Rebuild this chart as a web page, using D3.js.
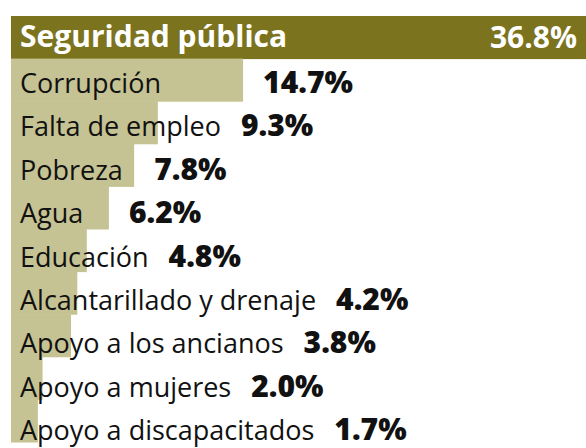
<!DOCTYPE html>
<html>
<head>
<meta charset="utf-8">
<script src="https://cdn.jsdelivr.net/npm/d3@7"></script>
<style>
    html, body { margin: 0; padding: 0; background: #fff; }
    svg { display: block; }
    text { font-family: 'Open Sans', 'Noto Sans', sans-serif; }
</style>
</head>
<body>
<div id="chart"></div>
<script>
(function() {
    'use strict';

    var categories = ['Seguridad pública', 'Corrupción', 'Falta de empleo', 'Pobreza', 'Agua',
        'Educación', 'Alcantarillado y drenaje', 'Apoyo a los ancianos', 'Apoyo a mujeres',
        'Apoyo a discapacitados'];
    var values = [36.8, 14.7, 9.3, 7.8, 6.2, 4.8, 4.2, 3.8, 2.0, 1.7];
    var valueLabels = ['36.8%', '14.7%', '9.3%', '7.8%', '6.2%', '4.8%', '4.2%', '3.8%', '2.0%', '1.7%'];

    var W = 586, H = 448;
    var left = 11, top = 16;

    var svg = d3.select('#chart').append('svg')
        .attr('width', W)
        .attr('height', H);

    var x = d3.scaleLinear().domain([0, 36.8]).range([0, 581]);
    // bars and text lines don't share quite the same pitch in the original
    var y = d3.scaleBand().domain(d3.range(categories.length)).range([top, 442]).padding(0);
    var yText = d3.scaleBand().domain(d3.range(categories.length)).range([top, 450]).padding(0);

    //bars
    svg.selectAll('rect.bar')
        .data(categories)
        .enter().append('rect')
        .attr('class', 'bar')
        .attr('x', left)
        .attr('y', function(d, i) { return y(i); })
        .attr('width', function(d, i) { return Math.min(x(values[i]), W - left); })
        .attr('height', y.bandwidth() + 0.5)
        .attr('fill', function(d, i) { return i === 0 ? '#7c731f' : '#c5c293'; });

    var rows = svg.selectAll('g.row')
        .data(categories)
        .enter().append('g')
        .attr('class', 'row')
        .attr('transform', function(d, i) { return 'translate(0,' + yText(i) + ')'; });

    //category names
    rows.append('text')
        .attr('class', 'name')
        .attr('x', 20)
        .attr('y', function(d, i) { return i === 0 ? 30.5 : 33.5; })
        .attr('font-size', function(d, i) { return i === 0 ? 30 : 27; })
        .attr('font-weight', function(d, i) { return i === 0 ? 700 : 400; })
        .attr('fill', function(d, i) { return i === 0 ? '#fff' : '#111'; })
        .text(function(d) { return d; });

    //values
    rows.append('text')
        .attr('class', 'val')
        .attr('y', function(d, i) { return i === 0 ? 32 : 33.5; })
        .attr('font-size', 30)
        .attr('font-weight', function(d, i) { return i === 0 ? 700 : 800; })
        .attr('text-anchor', function(d, i) { return i === 0 ? 'end' : 'start'; })
        .attr('fill', function(d, i) { return i === 0 ? '#fff' : '#111'; })
        .text(function(d, i) { return valueLabels[i]; })
        .attr('x', function(d, i) {
            if (i === 0) {
                return W - 9;
            }
            var nameEnd = 20 + this.parentNode.querySelector('text.name').getComputedTextLength();
            var barEnd = left + x(values[i]);
            return Math.max(nameEnd, barEnd) + 20;
        });
})();
</script>
</body>
</html>
